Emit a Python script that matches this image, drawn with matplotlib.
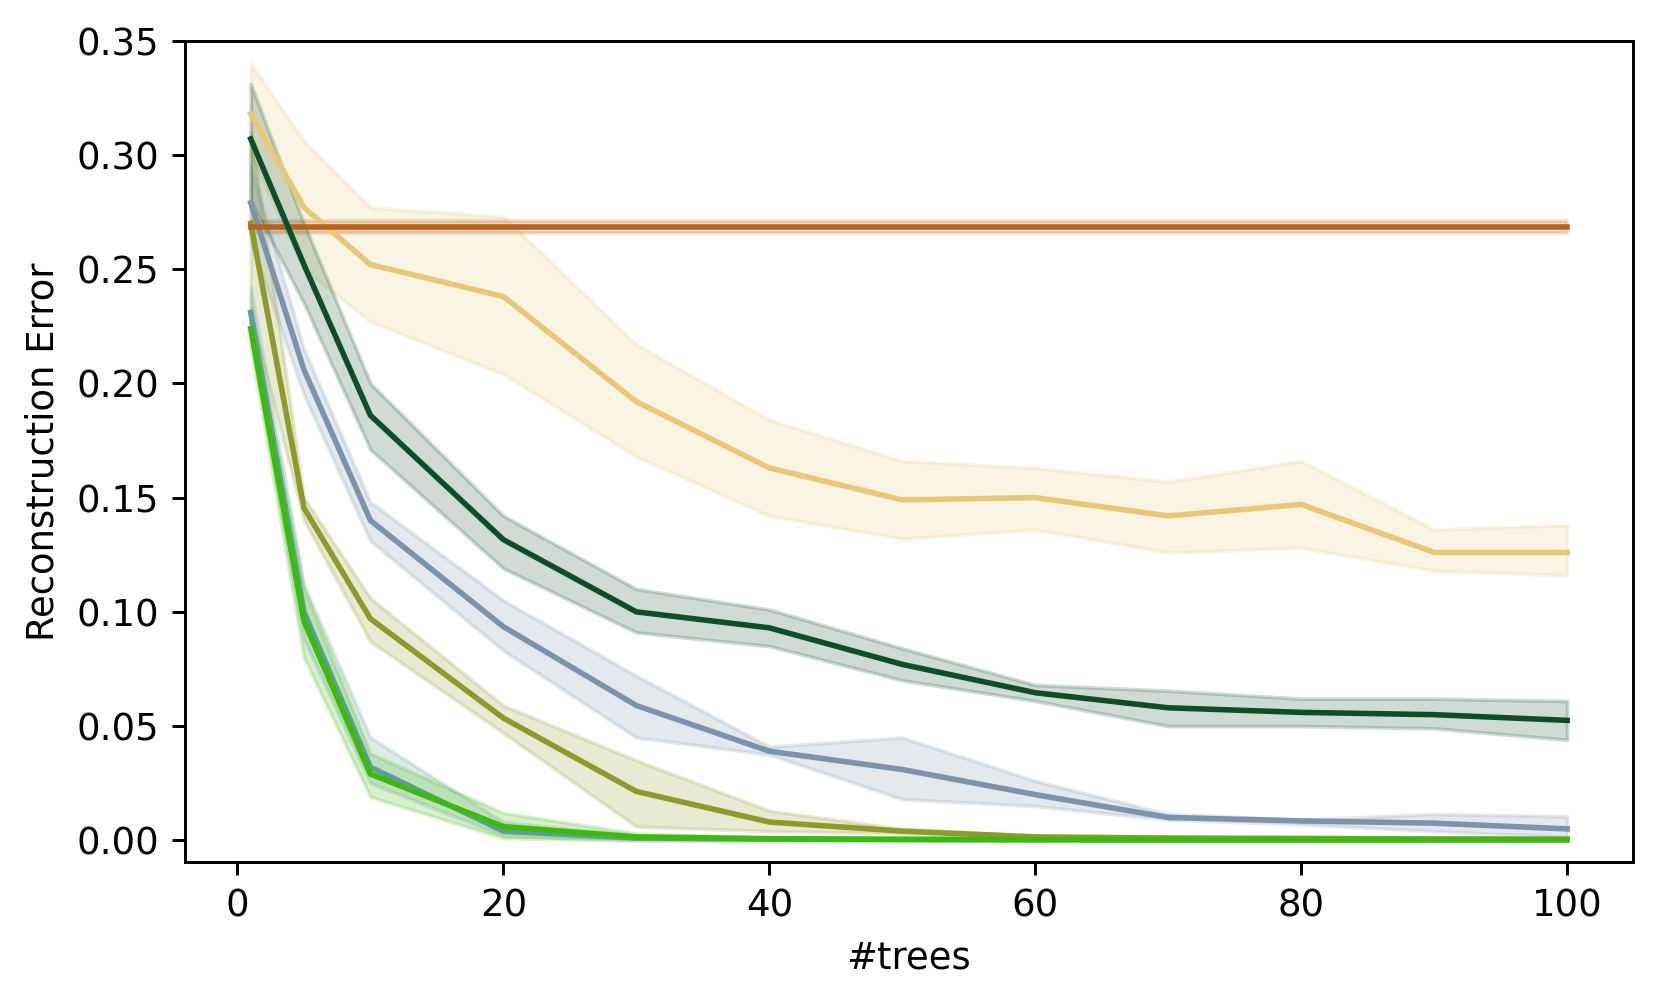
import matplotlib
matplotlib.use("Agg")
import matplotlib.pyplot as plt

n_trees = [1, 5, 10, 20, 30, 40, 50, 60, 70, 80, 90, 100]

# yellow / tan
tan_mean = [0.318, 0.277, 0.252, 0.238, 0.192, 0.163, 0.149, 0.150, 0.142, 0.147, 0.126, 0.126]
tan_hi = [0.340, 0.306, 0.277, 0.273, 0.217, 0.184, 0.166, 0.163, 0.157, 0.166, 0.136, 0.138]
tan_lo = [0.300, 0.250, 0.227, 0.204, 0.168, 0.142, 0.132, 0.136, 0.126, 0.128, 0.118, 0.116]

# blue grey
blue_mean = [0.279, 0.206, 0.140, 0.0935, 0.059, 0.039, 0.031, 0.020, 0.010, 0.0085, 0.0075, 0.005]
blue_hi = [0.295, 0.215, 0.148, 0.105, 0.072, 0.041, 0.045, 0.026, 0.0115, 0.009, 0.0115, 0.0105]
blue_lo = [0.262, 0.195, 0.131, 0.083, 0.045, 0.0375, 0.018, 0.015, 0.009, 0.007, 0.004, 0.0015]

# olive
olive_mean = [0.270, 0.1455, 0.097, 0.0535, 0.0214, 0.008, 0.004, 0.0015, 0.001, 0.0008, 0.0006, 0.0005]
olive_hi = [0.310, 0.150, 0.106, 0.059, 0.035, 0.013, 0.005, 0.002, 0.0015, 0.0015, 0.0012, 0.001]
olive_lo = [0.230, 0.140, 0.087, 0.047, 0.006, 0.004, 0.003, 0.001, 0.0005, 0.0003, 0.0002, 0.0002]

# orange (flat)
orange_mean = [0.2685] * 12
orange_hi = [0.271] * 12
orange_lo = [0.266] * 12

# dark green
dgreen_mean = [0.307, 0.252, 0.186, 0.1316, 0.100, 0.093, 0.077, 0.0646, 0.058, 0.056, 0.055, 0.0525]
dgreen_hi = [0.331, 0.270, 0.200, 0.142, 0.110, 0.101, 0.084, 0.068, 0.0655, 0.062, 0.062, 0.061]
dgreen_lo = [0.280, 0.235, 0.171, 0.119, 0.091, 0.085, 0.070, 0.061, 0.050, 0.050, 0.049, 0.044]

# teal
teal_mean = [0.231, 0.100, 0.032, 0.004, 0.001, 0.0005, 0.0004, 0.0003, 0.0003, 0.0003, 0.0003, 0.0003]
teal_hi = [0.242, 0.112, 0.045, 0.008, 0.002, 0.001, 0.0008, 0.0006, 0.0006, 0.0006, 0.0006, 0.0006]
teal_lo = [0.220, 0.088, 0.025, 0.002, 0.0, 0.0, 0.0, 0.0, 0.0, 0.0, 0.0, 0.0]

# bright green
green_mean = [0.224, 0.096, 0.029, 0.006, 0.0015, 0.0007, 0.0004, 0.0003, 0.0002, 0.0002, 0.0002, 0.0002]
green_hi = [0.232, 0.110, 0.038, 0.012, 0.003, 0.0012, 0.0008, 0.0006, 0.0005, 0.0005, 0.0005, 0.0005]
green_lo = [0.216, 0.080, 0.019, 0.001, 0.0, 0.0, 0.0, 0.0, 0.0, 0.0, 0.0, 0.0]

series = [
	(tan_mean, tan_lo, tan_hi, '#e8c878'),
	(blue_mean, blue_lo, blue_hi, '#7b93ab'),
	(olive_mean, olive_lo, olive_hi, '#8e9a2a'),
	(orange_mean, orange_lo, orange_hi, '#b5621a'),
	(dgreen_mean, dgreen_lo, dgreen_hi, '#0f4d2a'),
	(teal_mean, teal_lo, teal_hi, '#5f9e92'),
	(green_mean, green_lo, green_hi, '#3dba0c'),
]

dpi = 266
fig, ax = plt.subplots(figsize=(1660 / dpi, 1002 / dpi), dpi=dpi)
fig.subplots_adjust(left=0.1114, right=0.9837, top=0.9594, bottom=0.1397)

for mean, lo, hi, c in series:
	ax.fill_between(n_trees, lo, hi, color=c, alpha=0.2)
	ax.plot(n_trees, mean, color=c, lw=1.5)

ax.set_ylim(-0.0095, 0.35)
ax.set_xlabel('#trees')
ax.set_ylabel('Reconstruction Error')
fig.savefig("out.png")
